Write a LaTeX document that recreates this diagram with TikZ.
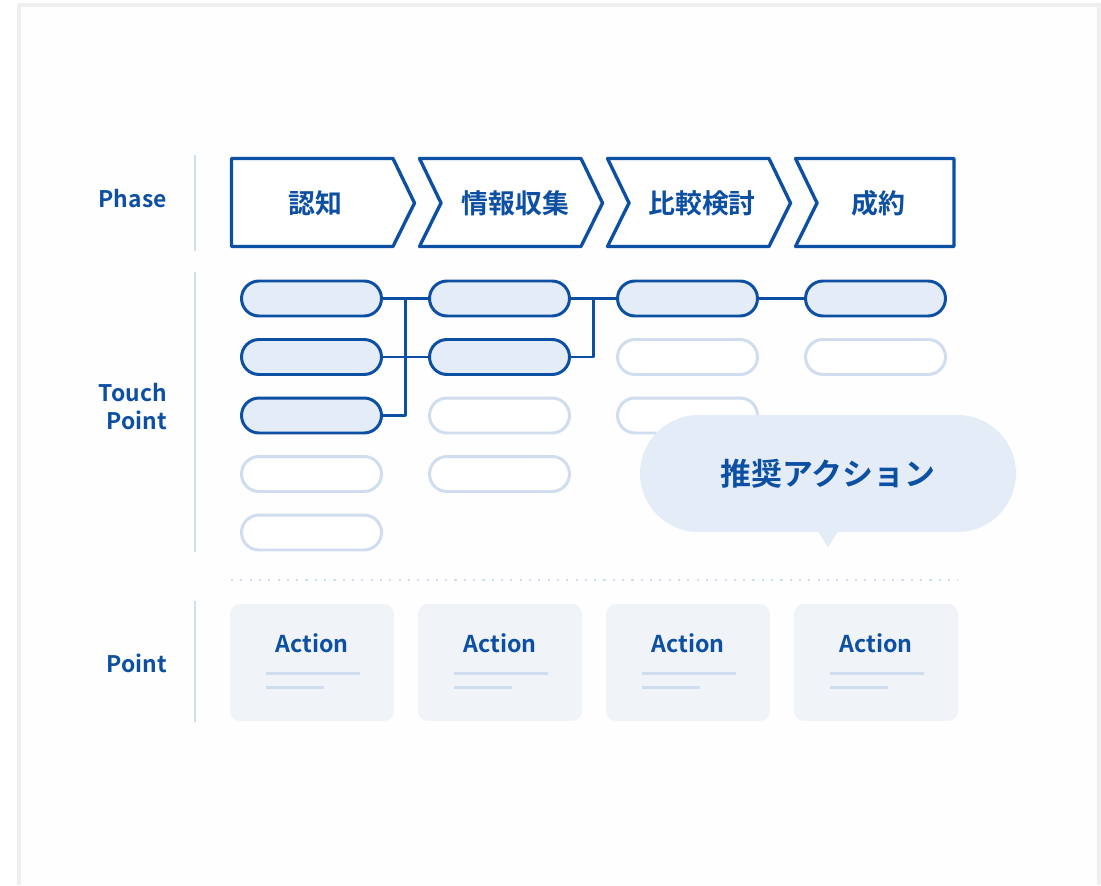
\documentclass[tikz,border=0pt]{standalone}
\usepackage{fontspec}
\setmainfont{Noto Sans CJK JP}[BoldFont={Noto Sans CJK JP Bold}]
\newfontfamily\jpfont{Noto Sans CJK JP}[BoldFont={Noto Sans CJK JP Bold}]
\usetikzlibrary{positioning,calc}
\definecolor{navy}{HTML}{0C4FA3}
\definecolor{paleline}{HTML}{CFDDEE}
\definecolor{palefill}{HTML}{E4EDF7}
\definecolor{cardfill}{HTML}{F0F4F9}
\definecolor{framegray}{HTML}{EFEFEF}
\tikzset{
  rowlbl/.style={font=\fontsize{13}{15.9}\selectfont\bfseries,text=navy,align=right,anchor=east,inner sep=0pt},
  phasebox/.style={draw=navy,line width=1.9pt,fill=white},
  phaselbl/.style={font=\jpfont\fontsize{15.3}{18}\selectfont\bfseries,text=navy,inner sep=0pt},
  pillon/.style={draw=navy,fill=palefill,line width=1.7pt,minimum width=2.8cm,minimum height=0.7cm,rounded corners=0.35cm,inner sep=0pt},
  pilloff/.style={draw=paleline,fill=white,line width=1.7pt,minimum width=2.8cm,minimum height=0.7cm,rounded corners=0.35cm,inner sep=0pt},
  link/.style={draw=navy,line width=1.7pt},
  bubble/.style={fill=palefill,minimum width=7.52cm,minimum height=2.34cm,rounded corners=1.17cm,inner sep=0pt,
    font=\jpfont\fontsize{17.6}{20}\selectfont\bfseries,text=navy},
  card/.style={fill=cardfill,minimum width=3.28cm,minimum height=2.34cm,rounded corners=0.2cm,inner sep=0pt},
  actlbl/.style={font=\fontsize{13.2}{15}\selectfont\bfseries,text=navy,inner sep=0pt},
  divider/.style={draw=paleline,line width=1.7pt}
}
\begin{document}
\begin{tikzpicture}[x=0.02cm,y=-0.02cm,line join=round]
	\useasboundingbox (0,0) rectangle (1101,885);
	\fill[white] (0,0) rectangle (1101,885);
	% outer frame
	\fill[white!60!framegray!10] (19,5) rectangle (1099.5,885);
	\draw[framegray,line width=2.3pt] (19,885) -- (19,5) -- (1099.5,5) -- (1099.5,885);
	% row labels
	\node[rowlbl] (lphase) at (167,199) {Phase};
	\node[rowlbl] (ltouch) at (167,407) {Touch\\Point};
	\node[rowlbl] (lpoint) at (167,663) {Point};
	\draw[divider] (195,155) -- (195,251) (195,272) -- (195,552) (195,601) -- (195,722);
	% phases
	\draw[phasebox] (231.5,158.5) -- (393,158.5) -- (414.5,203) -- (393,246.5) -- (231.5,246.5) -- cycle;
	\draw[phasebox] (419.5,158.5) -- (581,158.5) -- (602.5,203) -- (581,246.5) -- (419.5,246.5) -- (441,203) -- cycle;
	\draw[phasebox] (607.5,158.5) -- (769,158.5) -- (790.5,203) -- (769,246.5) -- (607.5,246.5) -- (629,203) -- cycle;
	\draw[phasebox] (795.5,158.5) -- (954,158.5) -- (954,246.5) -- (795.5,246.5) -- (817,203) -- cycle;
	\node[phaselbl] (ph1) at (315,203) {認知};
	\node[phaselbl] (ph2) at (515.5,203) {情報収集};
	\node[phaselbl] (ph3) at (702,203) {比較検討};
	\node[phaselbl] (ph4) at (878.5,203) {成約};
	% touch points
	\foreach \c/\r in {1/1,1/2,1/3,2/1,2/2,3/1,4/1}
	\node[pillon] (tp\c\r) at ({311.5+188*(\c-1)},{298.5+58.5*(\r-1)}) {};
	\foreach \c/\r in {1/4,1/5,2/3,2/4,3/2,3/3,4/2}
	\node[pilloff] (tp\c\r) at ({311.5+188*(\c-1)},{298.5+58.5*(\r-1)}) {};
	\coordinate (j1) at (405,298.5);
	\coordinate (j2) at (593,298.5);
	\draw[link] (tp11) -- (tp21);
	\draw[link] (tp12) -- (tp22);
	\draw[link] (j1) |- (tp13.east);
	\draw[link] (tp22.east) -| (j2);
	\draw[link] (tp21) -- (tp31);
	\draw[link] (tp31) -- (tp41);
	% recommendation
	\node[bubble] (rec) at (828,473.5) {推奨アクション};
	\fill[palefill] ($(rec.south)+(-10,-1)$) -- ($(rec.south)+(0,15)$) -- ($(rec.south)+(10,-1)$) -- cycle;
	\draw[paleline,line width=1.2pt,dash pattern=on 1.2pt off 4.1pt] (231,580) -- (958,580);
	% actions
	\foreach \c in {1,...,4}{
	\node[card] (act\c) at ({312+188*(\c-1)},662.5) {};
	\node[actlbl] (atx\c) at ($(act\c.center)+(0,-19.5)$) {Action};
	\draw[divider] ($(act\c.center)+(-46,10.5)$) -- ($(act\c.center)+(48,10.5)$);
	\draw[divider] ($(act\c.center)+(-46,24.5)$) -- ($(act\c.center)+(12,24.5)$);
	}
\end{tikzpicture}
\end{document}
